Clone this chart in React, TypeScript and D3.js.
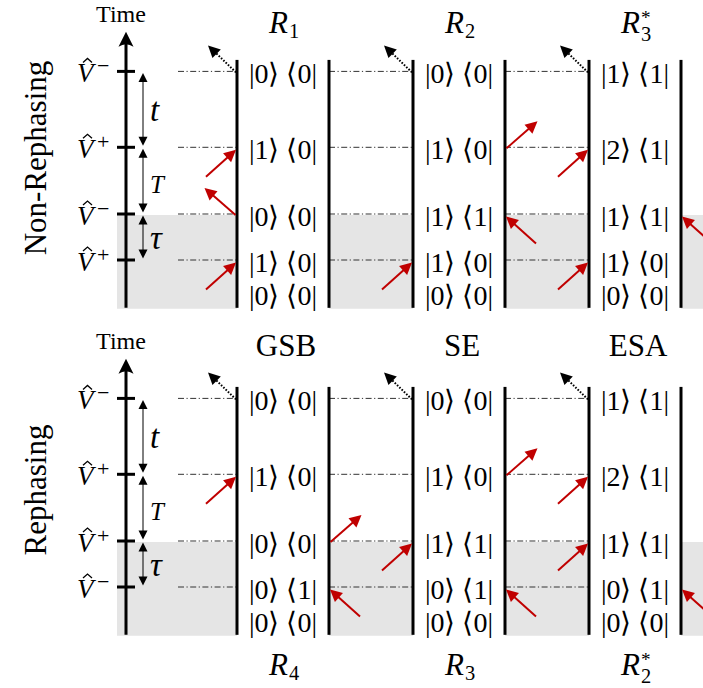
import React from "react";
import * as d3 from "d3";

const W = 703;
const H = 688;
const FONT = "Liberation Serif";
const RED = "#c00000";

// pulse arrival times (arbitrary units), first pulse at 0
const pulseTimes = [0, 1, 2.45, 4.1];
// rows of density-matrix labels, top to bottom
const rowTimes = [4.1, 2.45, 1, 0, -0.72];
const intervalNames = ["τ", "T", "t"];
const panelNames = ["Non-Rephasing", "Rephasing"];
const panelOffsets = [0, 327];
// sign of V on the time axis, per pulse (first pulse first)
const pulseSigns = [
  ["+", "−", "+", "−"],
  ["−", "+", "+", "−"],
];
const headers = [
  [
    { main: "R", sub: "1", sup: "" },
    { main: "R", sub: "2", sup: "" },
    { main: "R", sub: "3", sup: "*" },
  ],
  [
    { main: "GSB", sub: "", sup: "" },
    { main: "SE", sub: "", sup: "" },
    { main: "ESA", sub: "", sup: "" },
  ],
];
const footers = [
  null,
  [
    { main: "R", sub: "4", sup: "" },
    { main: "R", sub: "3", sup: "" },
    { main: "R", sub: "2", sup: "*" },
  ],
];
// ket / bra labels per diagram, top row to bottom row
const kets = [
  [["0", "1", "0", "1", "0"], ["0", "1", "1", "1", "0"], ["1", "2", "1", "1", "0"]],
  [["0", "1", "0", "0", "0"], ["0", "1", "1", "0", "0"], ["1", "2", "1", "0", "0"]],
];
const bras = [
  [["0", "0", "0", "0", "0"], ["0", "0", "1", "0", "0"], ["1", "1", "1", "0", "0"]],
  [["0", "0", "0", "1", "0"], ["0", "0", "1", "1", "0"], ["1", "1", "1", "1", "0"]],
];
// field interactions for pulses 0..2: side (L/R) + in/out
const interactions = [
  [["Li", "Lo", "Li"], ["Li", "Ri", "Ro"], ["Li", "Ri", "Li"]],
  [["Ri", "Ro", "Li"], ["Ri", "Li", "Ro"], ["Ri", "Li", "Li"]],
];

const DW = 92; // diagram width

function head(tip: number[], from: number[], len: number, hw: number) {
  const ang = Math.atan2(tip[1] - from[1], tip[0] - from[0]);
  const bx = tip[0] - len * Math.cos(ang);
  const by = tip[1] - len * Math.sin(ang);
  const nx = -Math.sin(ang) * hw;
  const ny = Math.cos(ang) * hw;
  return `M${tip[0]},${tip[1]}L${bx + nx},${by + ny}L${bx - nx},${by - ny}Z`;
}

function Arrow({ tail, tip, color, dotted }: any) {
  const len = 12;
  const ang = Math.atan2(tip[1] - tail[1], tip[0] - tail[0]);
  const end = [tip[0] - (len - 2) * Math.cos(ang), tip[1] - (len - 2) * Math.sin(ang)];
  return (
    <g>
      <line
        x1={tail[0]}
        y1={tail[1]}
        x2={end[0]}
        y2={end[1]}
        stroke={color}
        strokeWidth={2}
        strokeDasharray={dotted ? "1.6,1.6" : undefined}
      />
      <path d={head(tip, tail, len, 6)} fill={color} />
    </g>
  );
}

function Label({ item, cx, y, size }: any) {
  if (!item.sub) {
    return (
      <text x={cx + 3} y={y} textAnchor="middle" fontSize={size}>
        {item.main}
      </text>
    );
  }
  const starred = !!item.sup;
  return (
    <text x={cx - 14} y={y} fontSize={size}>
      <tspan fontStyle="italic">{item.main}</tspan>
      <tspan x={cx + 6} y={y + (starred ? 8 : 5)} fontSize={size * 0.66}>
        {item.sub}
      </tspan>
      {starred && (
        <tspan x={cx + 6} y={y - 9} fontSize={size * 0.62}>
          {item.sup}
        </tspan>
      )}
    </text>
  );
}

function Panel({ p }: { p: number }) {
  const off = panelOffsets[p];
  const y = d3.scaleLinear().domain([0, 1]).range([260 + off, 214 + off]);
  const x = d3.scaleLinear().domain([0, 1]).range([237, 413]);
  const cols = d3.range(3);
  const yTop = y(4.35);
  const yBot = y(-1.04);
  const axisX = 126;
  const dblX = 143;

  return (
    <g>
      <rect x={117} y={y(1) + 1} width={W - 117} height={y(-1.06) - y(1) - 1} fill="#e5e5e5" />
      {cols.map((i) => (
        <rect key={i} x={x(i)} y={y(1)} width={DW} height={y(-1.06) - y(1) + 1} fill="#fff" />
      ))}
      {/* dash-dot interaction levels */}
      {cols.map((i) =>
        pulseTimes.map((t, k) => (
          <line
            key={i + "-" + k}
            x1={i === 0 ? 178 : x(i - 1) + DW}
            x2={x(i)}
            y1={y(t)}
            y2={y(t)}
            stroke="#333"
            strokeWidth={1}
            strokeDasharray="6,2.5,1.2,2.5"
          />
        ))
      )}
      {/* diagram rails */}
      {cols.map((i) => (
        <g key={i}>
          <line x1={x(i)} x2={x(i)} y1={yTop} y2={yBot} stroke="#000" strokeWidth={3} />
          <line x1={x(i) + DW} x2={x(i) + DW} y1={yTop} y2={yBot} stroke="#000" strokeWidth={3} />
        </g>
      ))}
      {/* time axis */}
      <line x1={axisX} x2={axisX} y1={yBot} y2={y(4.96) + 10} stroke="#000" strokeWidth={3} />
      <path
        d={`M${axisX},${y(4.96)}L${axisX - 7.5},${y(4.96) + 15}Q${axisX},${y(4.96) + 10} ${axisX + 7.5},${y(4.96) + 15}Z`}
        fill="#000"
      />
      <text x={axisX - 5} y={22 + off} textAnchor="middle" fontSize={24}>
        Time
      </text>
      {pulseTimes.map((t, k) => (
        <g key={k}>
          <line x1={117} x2={135} y1={y(t)} y2={y(t)} stroke="#000" strokeWidth={3} />
          <path
            d={`M${83},${y(t) - 9}L${87.5},${y(t) - 13}L${92},${y(t) - 9}`}
            fill="none"
            stroke="#000"
            strokeWidth={1.3}
          />
          <text x={77} y={y(t) + 11} fontSize={27}>
            <tspan fontStyle="italic">V</tspan>
            <tspan x={97} y={y(t) + 2} fontSize={22}>
              {pulseSigns[p][k]}
            </tspan>
          </text>
        </g>
      ))}
      {/* interval arrows */}
      {intervalNames.map((name, k) => {
        const a = y(pulseTimes[k]) - 1.5;
        const b = y(pulseTimes[k + 1]) + 1.5;
        const mid = (a + b) / 2;
        return (
          <g key={name}>
            <line x1={dblX} x2={dblX} y1={a - 6} y2={b + 6} stroke="#000" strokeWidth={1} />
            <path d={head([dblX, a], [dblX, b], 9, 4.5)} fill="#000" />
            <path d={head([dblX, b], [dblX, a], 9, 4.5)} fill="#000" />
            <text x={150} y={mid + 12} fontSize={name === "T" ? 25 : 33} fontStyle="italic">
              {name}
            </text>
          </g>
        );
      })}
      {/* panel name */}
      <text
        transform={`translate(46,${off + (p === 0 ? 158 : 163)}) rotate(-90)`}
        textAnchor="middle"
        fontSize={31}
      >
        {panelNames[p]}
      </text>
      {/* density matrix labels */}
      {cols.map((i) =>
        rowTimes.map((t, r) => (
          <text key={i + "-" + r} x={x(i) + DW / 2} y={y(t) + 12} textAnchor="middle" fontSize={28}>
            {`|${kets[p][i][r]}⟩ ⟨${bras[p][i][r]}|`}
          </text>
        ))
      )}
      {/* field interactions */}
      {cols.map((i) =>
        interactions[p][i].map((code, k) => {
          const side = code[0];
          const dir = code[1];
          const sx = side === "L" ? -1 : 1;
          const lineX = side === "L" ? x(i) : x(i) + DW;
          const yy = y(pulseTimes[k]);
          let tail: number[], tip: number[];
          if (dir === "i") {
            tip = [lineX + sx * 1, yy + 2.5];
            tail = [tip[0] + sx * 30, tip[1] + 27];
          } else {
            tail = [lineX + sx * 1.5, yy + 1];
            tip = [tail[0] + sx * 31, tail[1] - 27];
          }
          return <Arrow key={i + "-" + k} tail={tail} tip={tip} color={RED} />;
        })
      )}
      {/* signal */}
      {cols.map((i) => {
        const yy = y(pulseTimes[3]);
        return <Arrow key={i} tail={[x(i) - 1, yy + 1]} tip={[x(i) - 29, yy - 26]} color="#000" dotted />;
      })}
      {cols.map((i) => (
        <Label key={i} item={headers[p][i]} cx={x(i) + DW / 2} y={off + (p === 0 ? 33 : 29)} size={31} />
      ))}
      {footers[p] &&
        cols.map((i) => <Label key={i} item={footers[p]![i]} cx={x(i) + DW / 2} y={675} size={31} />)}
    </g>
  );
}

export default function App() {
  return (
    <svg
      width={W}
      height={H}
      viewBox={`0 0 ${W} ${H}`}
      style={{ position: "absolute", left: 0, top: 0, background: "#fff", fontFamily: FONT }}
    >
      {panelNames.map((_, p) => (
        <Panel key={p} p={p} />
      ))}
    </svg>
  );
}
